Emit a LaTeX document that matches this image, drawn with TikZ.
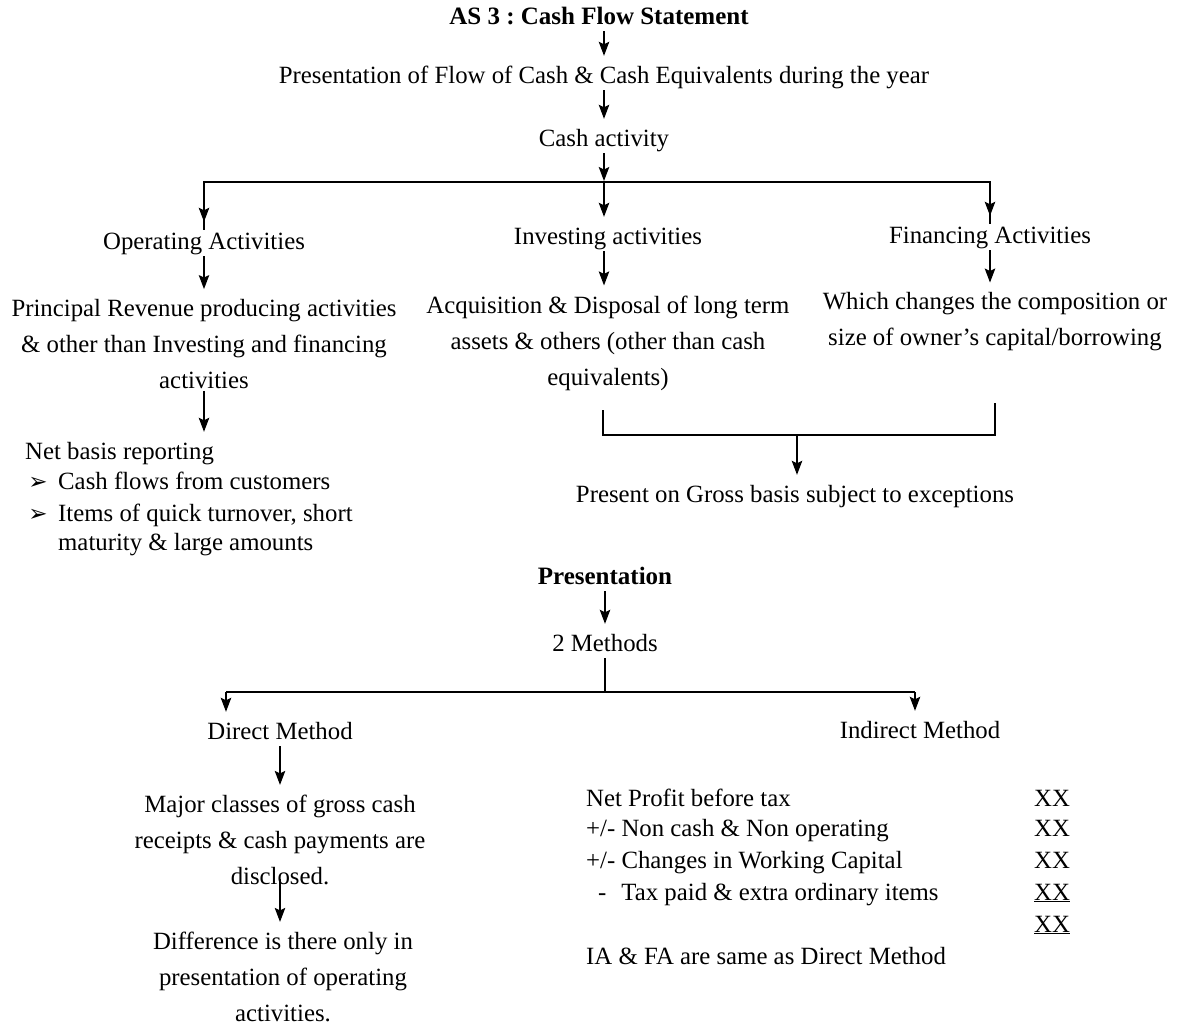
\documentclass[tikz,border=0pt]{standalone}
\usepackage{fontspec}
\setmainfont{Liberation Serif}
\newfontfamily\dingfont{DejaVu Sans}
\usetikzlibrary{arrows.meta,calc}
\frenchspacing
\begin{document}
\begin{tikzpicture}[x=1pt,y=-1pt,
  txt/.style={inner xsep=0pt,inner ysep=2pt,text height=17pt,text depth=5pt,
              font=\fontsize{24.8}{36}\selectfont},
  blk/.style={inner xsep=0pt,inner ysep=2pt,align=center,
              font=\fontsize{24.8}{36}\selectfont},
  lst/.style={txt,anchor=west},
  bul/.style={inner sep=0pt,font=\dingfont\fontsize{23}{23}\selectfont},
  arr/.style={-{Stealth[length=14pt,width=10.5pt,inset=2.5pt]},line width=1.2pt,shorten >=8pt},
  ln/.style={line width=1.2pt}]
\useasboundingbox[fill=white] (0,0) rectangle (1179,1028);

% --- upper chart: kinds of cash activity
\node[txt,font=\bfseries\fontsize{25}{36}\selectfont] (title) at (599,18) {AS 3 : Cash Flow Statement};
\node[txt] (pres) at (604,77) {Presentation of Flow of Cash \& Cash Equivalents during the year};
\node[txt] (cash) at (604,140) {Cash activity};
\coordinate (split) at (604,182);
\node[txt] (oper) at (204,243) {Operating Activities};
\node[txt] (inv) at (608,238) {Investing activities};
\node[txt] (fin) at (990,237) {Financing Activities};
\node[blk] (princ) at (204,344) {Principal Revenue producing activities\\ \& other than Investing and financing\\ activities};
\node[blk] (acq) at (608,343) {Acquisition \& Disposal of long term\\ assets \& others (other than cash\\ equivalents)};
\node[blk] (which) at (995,322) {Which changes the composition or\\ size of owner’s capital/borrowing};

\node[lst] (net) at (25,453) {Net basis reporting};
\node[bul] (b1) at (38,483) {➢};
\node[lst] (n1) at (58,483) {Cash flows from customers};
\node[bul] (b2) at (38,515) {➢};
\node[lst] (n2) at (58,515) {Items of quick turnover, short};
\node[lst] (n3) at (58,544) {maturity \& large amounts};

\coordinate (bl) at (603,410);
\coordinate (br) at (995,403);
\coordinate (bm) at (797,435);
\node[txt] (gross) at (795,496) {Present on Gross basis subject to exceptions};

\draw[arr] (pres.north |- title.south) -- (pres.north);
\draw[arr] (pres.south) -- (cash.north);
\draw[arr,shorten >=1pt] (cash.south) -- (split);
\draw[ln] (split) -| (oper.north);
\draw[ln] (split) -| (fin.north);
\draw[arr] (split) -| (oper.north);
\draw[arr] (split) -- (split |- inv.north);
\draw[arr] (split) -| (fin.north);
\draw[arr] (oper.south) -- (oper.south |- princ.north);
\draw[arr] (split |- inv.south) -- (split |- acq.north);
\draw[arr] (fin.south) -- (fin.south |- which.north);
\draw[arr] (princ.south) -- (princ.south |- net.north);
\draw[ln] (bl) |- (bm) -| (br);
\draw[arr] (bm) -- (bm |- gross.north);

% --- lower chart: methods of presentation
\node[txt,font=\bfseries\fontsize{25}{36}\selectfont] (presn) at (605,578) {Presentation};
\node[txt] (meth) at (605,645) {2 Methods};
\coordinate (m2) at (605,692);
\coordinate (dx) at (226,692);
\coordinate (ix) at (915,692);
\node[txt] (direct) at (280,733) {Direct Method};
\node[txt] (indirect) at (920,732) {Indirect Method};
\node[blk] (major) at (280,840) {Major classes of gross cash\\ receipts \& cash payments are\\ disclosed.};
\node[blk] (diff) at (283,977) {Difference is there only in\\ presentation of operating\\ activities.};

\node[lst] (r1) at (586,800) {Net Profit before tax};
\node[lst] (r2) at (586,830) {+/- Non cash \& Non operating};
\node[lst] (r3) at (586,862) {+/- Changes in Working Capital};
\node[lst] (r4) at (598,894) {-\hspace{15pt}Tax paid \& extra ordinary items};
\node[lst] (r6) at (586,958) {IA \& FA are same as Direct Method};
\node[txt] (x1) at (1052,800) {XX};
\node[txt] (x2) at (1052,830) {XX};
\node[txt] (x3) at (1052,862) {XX};
\node[txt] (x4) at (1052,894) {\underline{XX}};
\node[txt] (x5) at (1052,926) {\underline{XX}};

\draw[arr] (presn.south) -- (meth.north);
\draw[ln] (meth.south) -- (meth.south |- m2);
\draw[ln] (dx) -- (ix);
\draw[arr] (dx) -- (dx |- direct.north);
\draw[arr] (ix) -- (ix |- indirect.north);
\draw[arr] (direct.south) -- (direct.south |- major.north);
\draw[arr,shorten <=-8pt] (major.south) -- (major.south |- diff.north);
\end{tikzpicture}
\end{document}
